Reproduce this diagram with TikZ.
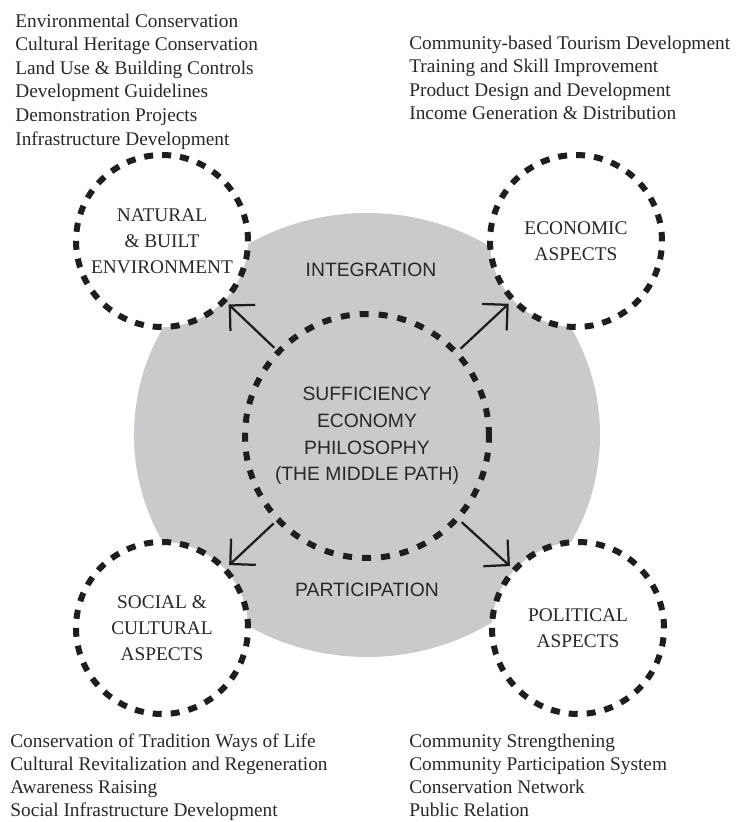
\documentclass[tikz,border=0pt]{standalone}
\usepackage{fontspec}
\setmainfont{Liberation Serif}
\setsansfont{Liberation Sans}
\usetikzlibrary{positioning,arrows.meta}
\definecolor{SEPGray}{HTML}{C9CACC}
\definecolor{SEPInk}{HTML}{1E1E1E}
\definecolor{SEPText}{HTML}{282828}

\begin{document}
\begin{tikzpicture}[>={Straight Barb[length=0.36cm,width=0.72cm]},
    aspect/.style={circle, draw=SEPInk, fill=white, line width=0.12cm,
                   dash pattern=on 0.18cm off 0.18cm, minimum size=3.44cm,
                   inner sep=0pt, align=center, text=SEPText,
                   font=\fontsize{11}{14.8}\selectfont},
    core/.style={circle, draw=SEPInk, line width=0.12cm,
                 dash pattern=on 0.18cm off 0.2cm, minimum size=4.88cm,
                 inner sep=0pt, align=center, text=SEPText,
                 font=\sffamily\fontsize{11}{15.2}\selectfont},
    tag/.style={text=SEPText, font=\sffamily\fontsize{11}{13}\selectfont},
    items/.style={anchor=north west, inner sep=0pt, align=left, text=SEPText,
                  font=\fontsize{11}{13.4}\selectfont},
    link/.style={->, draw=SEPInk, line width=0.045cm,
                 shorten <=0.06cm, shorten >=0.06cm}]
  \useasboundingbox (0,0) rectangle (14.82,16.44);
  \fill[SEPGray] (7.34,7.74) ellipse [x radius=4.66cm, y radius=4.44cm];
  \node[core] (sep) at (7.34,7.72) {SUFFICIENCY\\ ECONOMY\\ PHILOSOPHY\\ (THE MIDDLE PATH)};
  \node[aspect, on grid, above left=3.9cm and 4.1cm of sep] (natural) {NATURAL\\ \& BUILT\\ ENVIRONMENT};
  \node[aspect, on grid, above right=3.9cm and 4.18cm of sep] (economic) {ECONOMIC\\ ASPECTS};
  \node[aspect, on grid, below left=3.84cm and 4.1cm of sep] (social) {SOCIAL \&\\ CULTURAL\\ ASPECTS};
  \node[aspect, on grid, below right=3.84cm and 4.22cm of sep] (political) {POLITICAL\\ ASPECTS};
  \node[tag] (integ) at (7.42,11.04) {INTEGRATION};
  \node[tag] (partic) at (7.34,4.64) {PARTICIPATION};
  \node[items] (natlist) at (0.3,16.17) {Environmental Conservation\\ Cultural Heritage Conservation\\ Land Use \& Building Controls\\ Development Guidelines\\ Demonstration Projects\\ Infrastructure Development};
  \node[items] (ecolist) at (8.18,15.73) {Community-based Tourism Development\\ Training and Skill Improvement\\ Product Design and Development\\ Income Generation \& Distribution};
  \node[items, font=\fontsize{11}{13}\selectfont] (soclist) at (0.2,1.76) {Conservation of Tradition Ways of Life\\ Cultural Revitalization and Regeneration\\ Awareness Raising\\ Social Infrastructure Development};
  \node[items, font=\fontsize{11}{13}\selectfont] (pollist) at (8.18,1.76) {Community Strengthening\\ Community Participation System\\ Conservation Network\\ Public Relation};
  \draw[link] (sep) -- (natural);
  \draw[link] (sep) -- (economic);
  \draw[link] (sep) -- (social);
  \draw[link] (sep) -- (political);
\end{tikzpicture}
\end{document}
